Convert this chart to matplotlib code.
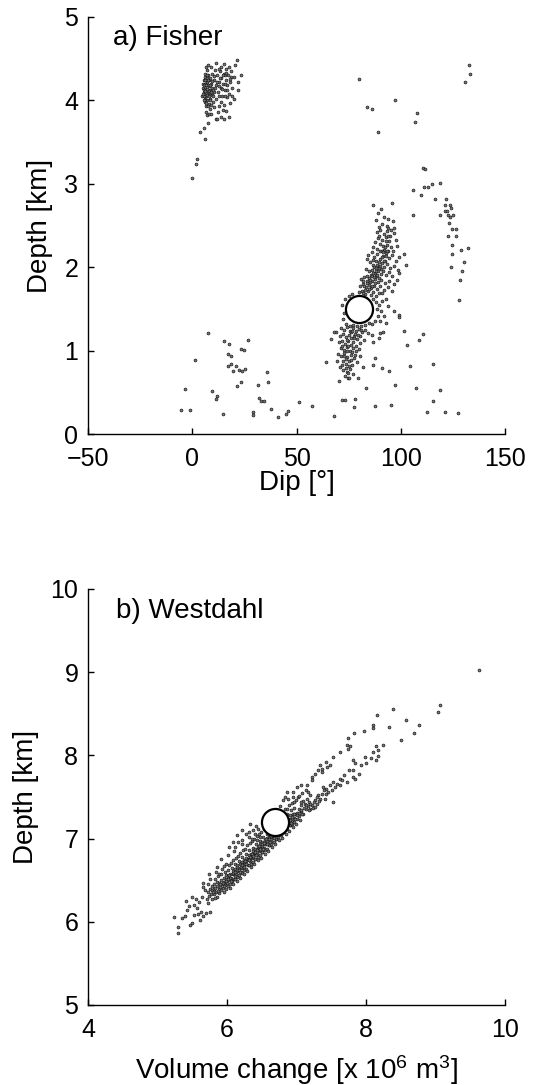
import matplotlib
matplotlib.use("Agg")
import matplotlib.pyplot as plt

plt.rcParams['font.family'] = ['Liberation Sans', 'DejaVu Sans']
plt.rcParams['mathtext.fontset'] = 'custom'
plt.rcParams['mathtext.rm'] = 'Liberation Sans'
plt.rcParams['mathtext.default'] = 'regular'

# ---------------- Panel a) Fisher : (dip [deg], depth [km]) ----------------
fisher_shallow_cluster = [
    (5.2,4.15),(5.8,4.10),(6.1,4.20),(6.5,4.05),(6.9,4.13),(7.2,4.22),(7.6,4.08),(8.0,4.17),(8.3,4.02),(8.7,4.12),
    (5.5,4.25),(6.3,4.28),(7.0,4.00),(7.4,4.30),(8.1,4.25),(8.9,4.20),(9.3,4.07),(5.9,3.98),(6.7,3.93),(7.8,3.96),
    (9.6,4.15),(10.2,4.24),(10.6,4.10),(4.8,4.05),(5.0,4.20),(6.0,4.32),(7.3,4.36),(8.5,3.90),(9.1,3.95),(6.4,3.86),
    (7.1,3.83),(8.2,3.84),(9.8,3.98),(10.5,3.92),(11.2,4.02),(11.6,4.18),(12.0,4.30),(12.4,4.10),(12.9,4.22),(13.3,4.35),
    (13.6,4.15),(14.0,4.27),(14.4,4.05),(14.8,4.20),(15.2,4.32),(15.6,4.12),(16.0,4.25),(16.4,4.38),(16.8,4.18),(17.3,4.30),
    (17.7,4.08),(18.2,4.22),(18.7,4.35),(19.2,4.15),(19.8,4.28),(20.5,4.42),(21.7,4.48),(11.5,4.45),(15.3,4.44),(13.8,4.40),
    (23.3,4.31),(22.1,4.22),(22.1,4.13),(20.0,4.02),(18.0,3.97),(16.4,3.87),(14.0,3.80),(17.7,3.80),(11.5,3.78),(9.0,3.84),
    (12.6,3.93),(13.7,3.98),(15.1,3.95),(16.9,4.04),(19.0,4.05),(10.8,4.36),(9.5,4.32),(12.2,3.86),(14.6,3.89),(8.8,4.40),
    (7.7,4.43),(10.1,4.05),(11.0,4.15),(15.9,4.05),(17.5,4.40),(6.6,4.40),(5.5,4.12),(6.2,4.16),(6.8,4.09),(7.5,4.18),
    (5.7,4.05),(6.4,4.24),(7.9,4.11),(8.6,4.27),(9.4,4.23),(5.3,4.08),(6.0,4.02),(7.0,4.27),(8.4,4.19),(13.0,4.05),
    (14.2,4.14),(15.8,4.30),(16.6,4.12),(18.4,4.28),(12.8,4.38),
    (5.6,4.18),(6.3,4.11),(7.1,4.07),(5.9,4.24),(6.7,4.19),(7.3,4.14),(8.0,4.05),(6.1,4.00),(5.4,4.01),(7.7,4.24),
    (6.5,3.97),(8.4,4.09),(7.4,3.93),(9.0,4.10),(6.9,4.30),(8.7,4.00),(10.0,4.12),(11.8,4.22),(13.1,4.27),(14.6,4.31),
    (16.2,4.33),(17.9,4.26),(15.5,4.20),(12.7,4.17),(10.4,4.29),
]
fisher_shallow_trail = [
    (7.5,3.73),(5.5,3.67),(3.5,3.62),(6.0,3.54),(2.5,3.30),(2.0,3.24),(0.0,3.07),(11.7,3.78),(15.0,3.78),
]
fisher_main_cluster = [
    # 2.45 - 2.8 km
    (86.8,2.75),(95.6,2.77),(88.9,2.65),(92.1,2.60),(88.0,2.56),(96.5,2.55),(94.0,2.58),(90.5,2.70),(91.0,2.52),
    (93.2,2.50),(89.5,2.48),(95.5,2.45),
    # 2.2 - 2.45 km
    (88.5,2.42),(90.2,2.45),(91.8,2.40),(93.5,2.43),(95.0,2.38),(96.8,2.41),(89.3,2.35),(91.0,2.33),(92.7,2.36),
    (94.3,2.31),(97.5,2.33),(87.6,2.30),(90.0,2.28),(91.6,2.25),(93.3,2.27),(95.2,2.24),(98.3,2.26),(88.8,2.22),
    (92.2,2.21),(94.0,2.20),(96.2,2.19),(86.5,2.24),(89.8,2.38),(93.9,2.47),(97.0,2.47),
    # 1.9 - 2.2 km
    (84.5,2.15),(86.0,2.18),(87.3,2.12),(88.7,2.16),(90.1,2.10),(91.5,2.14),(92.8,2.17),(94.2,2.11),(95.8,2.15),
    (97.5,2.08),(85.2,2.06),(86.6,2.03),(88.0,2.07),(89.4,2.01),(90.8,2.05),(92.0,2.00),(93.5,2.04),(95.0,1.99),
    (96.8,2.02),(98.5,1.97),(83.5,1.98),(84.9,1.95),(86.3,1.97),(87.6,1.93),(89.0,1.96),(90.3,1.92),(91.7,1.95),
    (93.0,1.91),(94.6,1.94),(83.9,2.10),(85.7,1.91),(87.0,2.00),(88.3,1.99),(89.9,2.19),(91.2,2.20),(92.5,2.08),
    (86.9,2.09),(90.5,1.98),(99.0,2.12),(96.0,1.90),
    # 1.65 - 1.9 km
    (81.0,1.86),(82.4,1.88),(83.7,1.84),(85.0,1.87),(86.4,1.83),(87.8,1.86),(89.2,1.82),(90.6,1.85),(92.3,1.81),
    (94.5,1.84),(80.5,1.78),(81.9,1.80),(83.2,1.76),(84.6,1.79),(85.9,1.75),(87.3,1.78),(88.7,1.74),(90.1,1.77),
    (91.8,1.73),(93.7,1.76),(80.2,1.70),(81.5,1.72),(82.8,1.68),(84.1,1.71),(85.5,1.67),(86.9,1.70),(88.2,1.66),
    (89.6,1.69),(95.8,1.72),(82.0,1.83),(84.0,1.89),(86.0,1.90),(88.0,1.89),(83.0,1.73),(85.2,1.82),(87.5,1.81),
    (89.8,1.87),(91.0,1.69),(97.0,1.80),(79.8,1.66),
    # denser core along the trend
    (82.5,1.77),(83.8,1.81),(85.3,1.85),(86.6,1.93),(87.9,1.96),(88.4,2.03),(89.6,2.06),(90.9,2.12),(91.3,2.18),
    (92.4,2.24),(93.1,2.32),(94.1,2.38),(84.8,1.74),(86.2,1.78),(87.0,1.88),(88.5,1.91),(89.7,1.99),(90.2,2.02),
    (91.9,2.07),(92.9,2.13),(93.6,2.19),(81.8,1.69),(83.4,1.63),
    # around the best-fit marker, 1.3 - 1.65 km
    (73.5,1.62),(75.0,1.66),(76.8,1.68),(86.5,1.62),(88.0,1.58),(89.5,1.55),(91.0,1.60),(88.5,1.50),(90.5,1.47),
    (89.0,1.42),(92.0,1.42),(87.5,1.36),(86.0,1.32),(90.0,1.35),(73.0,1.45),(72.5,1.38),(73.8,1.32),(75.5,1.30),
    (77.2,1.31),(79.0,1.29),(81.0,1.30),(83.0,1.31),(84.7,1.33),(94.0,1.53),(72.0,1.55),(93.0,1.62),
    # 1.0 - 1.3 km
    (71.5,1.27),(73.0,1.25),(74.3,1.28),(75.7,1.24),(77.0,1.27),(78.4,1.23),(79.8,1.26),(81.3,1.22),(82.8,1.25),
    (84.5,1.21),(70.8,1.18),(72.2,1.20),(73.6,1.16),(75.0,1.19),(76.3,1.15),(77.7,1.18),(79.1,1.14),(80.6,1.17),
    (82.2,1.13),(86.0,1.19),(70.5,1.10),(71.8,1.12),(73.2,1.08),(74.5,1.11),(75.9,1.07),(77.3,1.10),(78.7,1.06),
    (80.3,1.09),(71.3,1.03),(72.8,1.01),(74.2,1.04),(75.6,1.00),(77.0,1.03),(78.4,0.99),(79.9,1.02),(68.8,1.22),
    (67.8,1.22),(66.4,1.14),(76.0,1.22),(74.0,1.13),
    (76.5,1.23),(77.8,1.15),(74.8,1.05),(76.4,0.98),(71.9,1.06),(78.2,1.20),(79.5,1.19),(80.9,1.25),
    # 0.6 - 1.0 km
    (70.0,0.96),(71.5,0.93),(73.0,0.97),(74.4,0.92),(76.0,0.95),(77.5,0.91),(72.2,0.87),(73.8,0.84),(75.3,0.88),
    (76.8,0.83),(78.8,0.86),(70.8,0.80),(72.5,0.77),(74.0,0.74),(75.5,0.78),(77.0,0.72),(73.2,0.70),(74.8,0.67),
    (69.5,0.88),(80.5,0.93),(79.4,0.67),(75.2,0.67),(70.5,0.63),(64.1,0.86),(82.0,0.80),
    (73.6,0.90),(75.0,0.82),(72.9,0.93),(74.2,0.99),(77.9,0.95),(76.2,0.89),(72.0,0.83),(74.9,0.73),(73.9,0.79),
]
fisher_scattered = [
    (80.0,4.26),(132.7,4.42),(133.2,4.32),(130.8,4.22),(97.2,4.00),(83.7,3.92),(86.1,3.90),(107.6,3.85),
    (106.8,3.74),(88.9,3.62),(110.5,3.19),(111.4,3.18),(105.7,2.92),(109.5,2.87),(111.1,2.96),(113.2,2.96),
    (114.8,3.00),(118.8,3.01),(116.6,2.82),(121.5,2.82),(121.4,2.75),(123.6,2.75),(123.9,2.71),(121.1,2.67),
    (122.0,2.67),(118.8,2.62),(122.8,2.62),(123.6,2.60),(124.9,2.62),(123.3,2.53),(124.7,2.46),(126.5,2.46),
    (122.8,2.37),(126.5,2.37),(105.7,2.63),(124.7,2.27),(132.1,2.23),(128.8,2.21),(124.7,2.16),(130.4,2.06),
    (123.9,2.00),(129.6,1.96),(128.3,1.85),(128.0,1.61),(101.7,2.16),(102.6,2.03),(99.0,1.93),(98.0,1.85),
    (96.9,1.47),(99.1,1.43),(99.1,1.40),
    (101.5,1.23),(110.5,1.20),(108.9,1.13),(103.0,1.07),(92.9,1.33),(90.0,1.21),(91.3,1.22),(86.8,1.10),
    (89.7,1.15),(87.6,0.91),(86.8,0.83),(91.2,0.79),(94.5,0.75),(104.6,0.82),(115.3,0.84),(97.1,0.59),
    (107.2,0.55),(118.8,0.53),(115.6,0.39),(95.3,0.35),(87.8,0.34),(112.6,0.26),(121.2,0.26),(127.6,0.25),
    (83.5,0.55),(78.1,0.42),(72.0,0.41),(73.3,0.41),(77.6,0.32),(68.0,0.21),(57.3,0.34),
    (7.4,1.21),(15.2,1.11),(17.6,1.08),(26.9,1.13),(23.2,1.02),(24.9,1.01),(17.0,0.96),(18.8,0.94),(1.3,0.89),
    (17.0,0.82),(18.8,0.84),(21.1,0.81),(22.6,0.77),(23.7,0.76),(25.3,0.78),(19.4,0.75),(35.8,0.74),(36.2,0.62),
    (23.5,0.62),(21.7,0.58),(31.5,0.59),(-3.5,0.54),(9.3,0.52),(12.0,0.46),(11.5,0.42),(31.8,0.43),(33.0,0.40),
    (34.4,0.39),(51.3,0.38),(-5.2,0.29),(-0.9,0.29),(14.9,0.24),(29.0,0.26),(29.0,0.23),(37.7,0.30),(41.3,0.20),
    (45.1,0.24),(46.1,0.28),
]
fisher_best = (80.0, 1.5)

# ---------------- Panel b) Westdahl : (volume change [1e6 m3], depth [km]) ----------------
westdahl_tail = [
    (5.24,6.06),(5.30,5.94),(5.30,5.87),(5.40,6.07),(5.41,6.25),(5.42,6.14),(5.47,5.96),(5.49,5.98),(5.52,6.08),
    (5.53,6.20),(5.58,6.09),(5.62,6.12),(5.65,6.07),(5.70,6.10),(5.76,6.12),(5.56,6.28),(5.60,6.24),(5.64,6.30),
    (5.65,6.47),(5.66,6.42),(5.68,6.38),(5.35,6.04),(5.45,6.19),(5.50,6.30),(5.57,6.17),(5.61,6.02),
]
westdahl_core = [
    (5.71,6.28),(5.72,6.36),(5.73,6.45),(5.74,6.31),(5.75,6.40),(5.76,6.52),(5.77,6.34),(5.78,6.27),(5.79,6.43),
    (5.72,6.22),(5.74,6.58),(5.78,6.38),
    (5.81,6.33),(5.81,6.45),(5.82,6.39),(5.83,6.52),(5.84,6.36),(5.84,6.60),(5.85,6.43),(5.86,6.30),(5.86,6.48),
    (5.87,6.55),(5.88,6.40),(5.88,6.35),(5.89,6.47),(5.83,6.29),(5.85,6.66),(5.89,6.58),
    (5.90,6.42),(5.91,6.50),(5.91,6.38),(5.92,6.57),(5.93,6.45),(5.93,6.63),(5.94,6.41),(5.95,6.53),(5.95,6.36),
    (5.96,6.48),(5.97,6.60),(5.97,6.44),(5.98,6.52),(5.99,6.39),(5.99,6.70),(5.92,6.75),(5.96,6.67),(5.98,6.56),
    (6.00,6.47),(6.01,6.55),(6.01,6.43),(6.02,6.62),(6.03,6.50),(6.03,6.68),(6.04,6.46),(6.05,6.58),(6.05,6.41),
    (6.06,6.53),(6.07,6.65),(6.07,6.49),(6.08,6.57),(6.09,6.45),(6.09,6.74),(6.02,6.80),(6.06,6.71),(6.08,6.61),
    (6.04,6.53),(6.10,6.52),
    (6.10,6.58),(6.11,6.64),(6.11,6.51),(6.12,6.70),(6.13,6.57),(6.13,6.77),(6.14,6.54),(6.15,6.66),(6.15,6.49),
    (6.16,6.61),(6.17,6.73),(6.17,6.56),(6.18,6.65),(6.19,6.53),(6.19,6.83),(6.12,6.90),(6.16,6.79),(6.18,6.69),
    (6.14,6.62),(6.20,6.60),
    (6.20,6.66),(6.21,6.72),(6.21,6.59),(6.22,6.78),(6.23,6.65),(6.23,6.86),(6.24,6.62),(6.25,6.74),(6.25,6.57),
    (6.26,6.69),(6.27,6.81),(6.27,6.64),(6.28,6.73),(6.29,6.61),(6.29,6.92),(6.22,6.98),(6.26,6.88),(6.28,6.77),
    (6.24,6.70),(6.30,6.68),
    (6.30,6.75),(6.31,6.80),(6.31,6.68),(6.32,6.86),(6.33,6.73),(6.33,6.95),(6.34,6.70),(6.35,6.82),(6.35,6.66),
    (6.36,6.77),(6.37,6.89),(6.37,6.72),(6.38,6.81),(6.39,6.69),(6.39,7.00),(6.32,7.08),(6.36,6.97),(6.38,6.85),
    (6.34,6.78),(6.40,6.76),
    (6.40,6.83),(6.41,6.88),(6.41,6.76),(6.42,6.94),(6.43,6.81),(6.43,7.03),(6.44,6.78),(6.45,6.90),(6.45,6.74),
    (6.46,6.85),(6.47,6.97),(6.47,6.80),(6.48,6.89),(6.49,6.77),(6.49,7.08),(6.42,7.15),(6.46,7.05),(6.48,6.93),
    (6.44,6.86),(6.50,6.84),
    (6.50,6.91),(6.51,6.96),(6.51,6.84),(6.52,7.02),(6.53,6.89),(6.53,7.11),(6.54,6.86),(6.55,6.98),(6.55,6.82),
    (6.56,6.93),(6.57,7.05),(6.57,6.88),(6.58,6.97),(6.59,6.85),(6.52,7.22),(6.56,7.14),(6.58,7.01),(6.54,6.94),
    (6.60,6.92),
    (6.60,6.99),(6.61,7.04),(6.61,6.92),(6.62,7.10),(6.63,6.97),(6.64,6.94),(6.65,7.06),(6.65,6.90),(6.66,7.01),
    (6.67,7.13),(6.67,6.96),(6.68,7.05),(6.69,6.93),(6.62,7.02),(6.70,7.00),
    (6.70,7.07),(6.71,7.12),(6.71,7.00),(6.72,7.18),(6.73,7.05),(6.74,7.02),(6.75,7.14),(6.75,6.98),(6.76,7.09),
    (6.77,7.21),(6.77,7.04),(6.78,7.13),(6.79,7.01),(6.72,7.30),(6.76,7.26),(6.80,7.08),
    (6.80,7.15),(6.81,7.20),(6.81,7.08),(6.82,7.26),(6.83,7.13),(6.83,7.35),(6.84,7.10),(6.85,7.22),(6.85,7.06),
    (6.86,7.17),(6.87,7.29),(6.87,7.12),(6.88,7.21),(6.89,7.09),(6.89,7.40),(6.86,7.36),(6.84,7.17),(6.90,7.16),
    (6.90,7.23),(6.91,7.28),(6.91,7.16),(6.92,7.34),(6.93,7.21),(6.93,7.43),(6.94,7.18),(6.95,7.30),(6.95,7.14),
    (6.96,7.25),(6.97,7.37),(6.97,7.20),(6.98,7.29),(6.99,7.17),(6.99,7.46),(6.96,7.44),(7.00,7.24),
    (7.01,7.31),(7.03,7.36),(7.04,7.27),(7.06,7.40),(7.07,7.33),(7.09,7.45),(7.10,7.30),(7.12,7.41),(7.13,7.36),
    (7.15,7.48),(7.16,7.39),(7.18,7.44),(7.19,7.52),(7.02,7.50),(7.08,7.55),(7.14,7.58),(7.20,7.36),(7.05,7.22),
    (6.33,7.18),(6.38,7.10),(6.40,7.06),(6.45,7.12),(6.31,7.02),(6.36,7.00),(6.43,6.98),(6.47,7.02),(6.16,6.96),
    (6.21,6.94),(6.03,6.90),(6.08,6.96),(6.15,7.04),(6.22,7.10),(6.28,7.05),(6.10,6.85),
    # dense lower-right edge of the band
    (5.87,6.37),(5.94,6.47),(5.96,6.43),(6.03,6.56),(6.06,6.49),(6.09,6.59),(6.12,6.55),(6.14,6.68),(6.17,6.62),
    (6.19,6.60),(6.22,6.70),(6.24,6.66),(6.26,6.73),(6.28,6.70),(6.31,6.76),(6.33,6.78),(6.36,6.82),(6.38,6.79),
    (6.41,6.84),(6.43,6.86),(6.46,6.91),(6.48,6.87),(6.51,6.93),(6.53,6.95),(6.56,7.00),(6.58,6.94),(6.61,6.99),
    (6.63,7.03),(6.66,7.06),(6.68,7.01),(6.71,7.08),(6.73,7.10),(6.76,7.13),(6.78,7.07),(6.81,7.14),(6.83,7.18),
    (6.86,7.21),(6.88,7.16),(6.91,7.22),(6.93,7.26),(6.96,7.29),(6.98,7.24),(7.01,7.28),(7.03,7.31),(7.06,7.34),
    (7.08,7.30),(7.11,7.37),(7.13,7.40),(5.80,6.36),(5.83,6.41),(5.90,6.46),(5.99,6.49),(6.01,6.51),(6.11,6.60),
    (6.21,6.68),(6.32,6.74),(6.42,6.80),(6.52,6.88),(6.62,6.96),(6.72,7.04),(6.82,7.11),(6.92,7.19),
]
westdahl_upper = [
    (7.53,7.68),(7.63,7.64),(7.58,7.66),(7.48,7.64),(7.43,7.60),(7.51,7.59),(7.39,7.58),(7.36,7.54),(7.43,7.54),
    (7.31,7.52),(7.34,7.48),(7.41,7.47),(7.27,7.46),(7.29,7.42),(7.52,7.44),(7.22,7.40),(7.25,7.44),(7.20,7.42),
    (7.24,7.37),(7.30,7.50),(7.38,7.62),(7.46,7.56),(7.56,7.62),(7.33,7.45),(7.18,7.34),(7.27,7.38),
    (7.22,7.74),(7.23,7.70),(7.15,7.64),(7.06,7.64),(7.00,7.62),(6.95,7.56),(6.86,7.56),(6.83,7.50),(6.80,7.46),
    (6.76,7.39),(6.88,7.48),(6.95,7.50),(7.03,7.51),(7.17,7.56),(7.07,7.44),
    (7.48,7.89),(7.42,7.92),(7.44,7.86),(7.36,7.84),(7.31,7.82),(7.27,7.78),(7.34,7.88),(7.36,7.80),
    (7.53,7.98),(7.63,8.04),(7.72,8.12),(7.77,8.11),(7.74,8.08),(7.74,8.21),(7.83,8.27),(7.97,8.29),(8.10,8.37),
    (8.10,8.33),(8.33,8.34),(8.16,8.48),(8.39,8.56),(8.58,8.43),(8.76,8.36),(8.69,8.27),(8.50,8.19),(9.06,8.61),
    (9.03,8.52),(9.63,9.03),
    (8.24,8.13),(8.15,8.11),(8.17,8.07),(8.10,8.04),(8.17,7.99),(8.14,7.95),(8.07,7.97),(7.99,7.98),(8.00,7.91),
    (7.93,7.88),(7.82,7.95),(7.84,7.91),(7.75,7.82),(7.81,7.82),(7.90,7.78),(7.82,7.74),(7.84,7.72),(7.72,7.68),
    (7.68,7.76),(7.62,7.72),(7.66,7.70),
]
westdahl_best = (6.69, 7.20)

fisher_xlim, fisher_ylim = (-50, 150), (0, 5)
fisher_xticks, fisher_yticks = [-50, 0, 50, 100, 150], [0, 1, 2, 3, 4, 5]
westdahl_xlim, westdahl_ylim = (4, 10), (5, 10)
westdahl_xticks, westdahl_yticks = [4, 6, 8, 10], [5, 6, 7, 8, 9, 10]

W, H = 535, 1085
fig = plt.figure(figsize=(W / 100, H / 100), dpi=100)
ax_a = fig.add_axes([88 / W, (H - 434) / H, 417 / W, 417 / H])
ax_b = fig.add_axes([88 / W, (H - 1005) / H, 417 / W, 416 / H])

dot = dict(ls='none', marker='o', ms=2.1, mfc='#777777', mec='#111111', mew=0.45)


def draw(ax, groups, best):
    for g in groups:
        xs = [p[0] for p in g]
        ys = [p[1] for p in g]
        ax.plot(xs, ys, **dot)
    ax.plot([best[0]], [best[1]], ls='none', marker='o', ms=19.5, mfc='white',
            mec='black', mew=1.6, zorder=5)


def style(ax, xlim, ylim, xt, yt):
    ax.set_xlim(*xlim)
    ax.set_ylim(*ylim)
    ax.set_xticks(xt)
    ax.set_yticks(yt)
    for s in ('top', 'right'):
        ax.spines[s].set_visible(False)
    for s in ('left', 'bottom'):
        ax.spines[s].set_linewidth(1.0)
    ax.tick_params(direction='in', length=4, width=1, labelsize=18)
    ax.tick_params(axis='x', pad=9.5)
    ax.tick_params(axis='y', pad=7)


draw(ax_a, [fisher_shallow_cluster, fisher_shallow_trail, fisher_main_cluster, fisher_scattered], fisher_best)
style(ax_a, fisher_xlim, fisher_ylim, fisher_xticks, fisher_yticks)
ax_a.set_xlabel('Dip [°]', fontsize=20, labelpad=-1)
ax_a.set_ylabel('Depth [km]', fontsize=20, labelpad=8)
ax_a.text(0.06, 0.933, 'a) Fisher', transform=ax_a.transAxes, fontsize=20, va='baseline', ha='left')

draw(ax_b, [westdahl_tail, westdahl_core, westdahl_upper], westdahl_best)
style(ax_b, westdahl_xlim, westdahl_ylim, westdahl_xticks, westdahl_yticks)
ax_b.set_xlabel('Volume change [x 10$^{6}$ m$^{3}$]', fontsize=20, labelpad=8)
ax_b.set_ylabel('Depth [km]', fontsize=20, labelpad=8)
ax_b.text(0.066, 0.93, 'b) Westdahl', transform=ax_b.transAxes, fontsize=20, va='baseline', ha='left')

fig.savefig('out.png', dpi=100)
